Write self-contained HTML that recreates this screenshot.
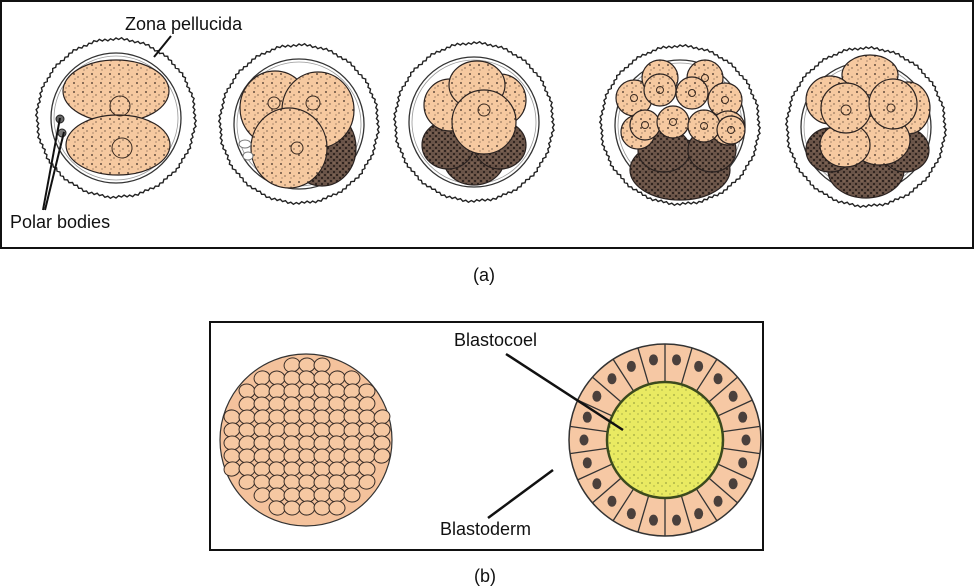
<!DOCTYPE html>
<html><head><meta charset="utf-8"><style>
html,body{margin:0;padding:0;background:#fff;width:975px;height:588px;overflow:hidden}
svg{display:block}
text{font-family:"Liberation Sans",Arial,sans-serif;font-size:18px;fill:#111}
</style></head><body>
<svg id="s" width="975" height="588" viewBox="0 0 975 588" xmlns="http://www.w3.org/2000/svg">
<defs>
<pattern id="st" width="9" height="9" patternUnits="userSpaceOnUse">
<rect width="9" height="9" fill="#f6c9a0"/>
<circle cx="2" cy="2" r="0.9" fill="#3a2a20"/><circle cx="6" cy="5" r="0.6" fill="#3a2a20"/><circle cx="3" cy="7" r="0.5" fill="#3a2a20"/>
</pattern>
<pattern id="dk" width="6" height="6" patternUnits="userSpaceOnUse">
<rect width="6" height="6" fill="#6a5448"/>
<circle cx="1" cy="1" r="1" fill="#1e1612"/><circle cx="4" cy="4" r="1.1" fill="#2a1f1a"/><circle cx="4" cy="1" r="0.5" fill="#c9a080"/>
</pattern>
<pattern id="yl" width="8" height="8" patternUnits="userSpaceOnUse">
<rect width="8" height="8" fill="#e9ea62"/>
<circle cx="2" cy="3" r="0.6" fill="#4a5a20"/><circle cx="6" cy="6" r="0.5" fill="#4a5a20"/>
</pattern>
</defs>
<rect x="1" y="1" width="972" height="247" fill="none" stroke="#111" stroke-width="2"/>
<rect x="210" y="322" width="553" height="228" fill="none" stroke="#111" stroke-width="2"/>
<g id="emb"></g>
<text x="125" y="30">Zona pellucida</text>
<line x1="171" y1="36" x2="154" y2="57" stroke="#111" stroke-width="2"/>
<text x="10" y="228">Polar bodies</text>
<line x1="43" y1="210" x2="60" y2="118" stroke="#111" stroke-width="2"/>
<line x1="45" y1="210" x2="64" y2="132" stroke="#111" stroke-width="2"/>
<text x="473" y="281">(a)</text>
<text x="474" y="582">(b)</text>
<text x="454" y="346">Blastocoel</text>
<line x1="506" y1="354" x2="623" y2="430" stroke="#111" stroke-width="2.5"/>
<text x="440" y="535">Blastoderm</text>
<line x1="488" y1="518" x2="553" y2="470" stroke="#111" stroke-width="2.5"/>
</svg>
<script>
var g=document.getElementById('emb'),ns='http://www.w3.org/2000/svg';
function el(t,a){var e=document.createElementNS(ns,t);for(var k in a)e.setAttribute(k,a[k]);g.appendChild(e);return e;}
function wavy(x,y,r){var d='';for(var i=0;i<=180;i++){var a=i*2*Math.PI/180,rr=r+((i%2)?0.9:-0.9)+Math.sin(i*0.7)*0.6;d+=(i?'L':'M')+(x+rr*Math.cos(a)).toFixed(1)+' '+(y+rr*Math.sin(a)).toFixed(1);}
 el('path',{d:d+'Z',fill:'none',stroke:'#222','stroke-width':1.4});}
var E=[[116,118],[299,124],[474,122],[680,125],[866,127]];
E.forEach(function(c){
 wavy(c[0],c[1],79);
 el('circle',{cx:c[0],cy:c[1],r:65,fill:'none',stroke:'#333','stroke-width':1.3});
 el('circle',{cx:c[0],cy:c[1],r:62,fill:'none',stroke:'#999','stroke-width':0.8});
});
function cell(x,y,rx,ry,f){el('ellipse',{cx:x,cy:y,rx:rx,ry:ry||rx,fill:f||'url(#st)',stroke:'#2a2220','stroke-width':1.2});}
function nuc(x,y,r){el('circle',{cx:x,cy:y,r:r,fill:'none',stroke:'#3a2a20','stroke-width':1});}
cell(116,91,53,31);cell(118,145,52,30);nuc(120,106,10);nuc(122,148,10);
el('circle',{cx:60,cy:119,r:4,fill:'#666',stroke:'#222'});el('circle',{cx:62,cy:133,r:4,fill:'#777',stroke:'#222'});
cell(322,148,34,38,'url(#dk)');cell(275,108,35,37);cell(318,110,36,38);cell(289,148,38,40);nuc(274,103,6);nuc(313,103,7);nuc(297,148,6);
el('ellipse',{cx:245,cy:144,rx:6,ry:4,fill:'#fff',stroke:'#777'});el('ellipse',{cx:248,cy:156,rx:5,ry:4,fill:'#fff',stroke:'#777'});
cell(474,160,30,25,'url(#dk)');cell(500,145,26,24,'url(#dk)');cell(448,145,26,24,'url(#dk)');
cell(450,105,26,26);cell(500,100,26,26);cell(477,85,28,24);cell(484,122,32,32);nuc(484,110,6);
cell(680,170,50,30,'url(#dk)');cell(664,150,26,22,'url(#dk)');cell(712,150,24,22,'url(#dk)');
[[634,98,18],[660,78,18],[705,78,18],[725,100,17],[638,132,17],[728,128,17],[660,90,16],[692,93,16],[645,125,15],[673,122,16],[704,126,16],[731,130,14]].forEach(function(a){cell(a[0],a[1],a[2]);nuc(a[0],a[1],3.5);});
cell(866,170,38,28,'url(#dk)');cell(830,150,24,22,'url(#dk)');cell(905,150,24,22,'url(#dk)');
cell(870,75,28,20);cell(830,100,24,24);cell(908,108,22,26);cell(880,140,30,25);cell(845,145,25,22);
cell(846,108,25,25);cell(893,104,24,25);nuc(846,110,5);nuc(891,108,4);
el('circle',{cx:306,cy:440,r:86,fill:'#f4c29c',stroke:'#333','stroke-width':1.2});
for(var yy=365;yy<525;yy+=13)for(var xx=225;xx<395;xx+=15){var dx=xx+((yy/13)%2?7:0)-306,dy=yy-440;if(dx*dx+dy*dy<80*80){var e=el('ellipse',{cx:306+dx,cy:yy,rx:8,ry:7,fill:'#f6c8a2',stroke:'#3a2e28','stroke-width':1});e.setAttribute('transform','rotate('+((xx*7+yy)%40-20)+' '+(306+dx)+' '+yy+')');}}
var cx=665,cy=440,R1=96,R0=58,n=22;
el('circle',{cx:cx,cy:cy,r:R1,fill:'#f6c8a4',stroke:'#333','stroke-width':1.5});
for(var i=0;i<n;i++){var a=i*2*Math.PI/n;
 el('line',{x1:cx+R0*Math.cos(a+Math.PI/n),y1:cy+R0*Math.sin(a+Math.PI/n),x2:cx+R1*Math.cos(a+Math.PI/n),y2:cy+R1*Math.sin(a+Math.PI/n),stroke:'#333','stroke-width':1.3});
 var m=(R0+R1)/2+4;el('ellipse',{cx:cx+m*Math.cos(a),cy:cy+m*Math.sin(a),rx:4.5,ry:5.5,fill:'#4a403c'});}
el('circle',{cx:cx,cy:cy,r:R0,fill:'url(#yl)',stroke:'#3c4a1e','stroke-width':2.5});
</script>
</body></html>
